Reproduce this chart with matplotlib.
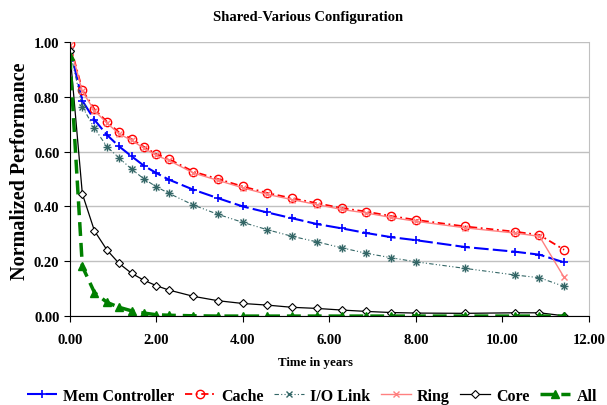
import numpy as np
from matplotlib import pyplot as plt

plt.rcParams['font.family'] = 'Liberation Serif'
plt.rcParams['font.weight'] = 'bold'

# time points (years)
years = [0.0, 0.29, 0.57, 0.86, 1.14, 1.43, 1.71, 2.0, 2.29, 2.86, 3.43, 4.0, 4.57, 5.14,
         5.71, 6.29, 6.86, 7.43, 8.0, 9.14, 10.29, 10.86, 11.43]

mem_controller = [0.98, 0.786, 0.716, 0.661, 0.619, 0.583, 0.549, 0.522, 0.498, 0.461, 0.430, 0.400, 0.378, 0.357,
                  0.336, 0.320, 0.303, 0.288, 0.277, 0.252, 0.235, 0.224, 0.196]
cache = [0.994, 0.825, 0.755, 0.709, 0.670, 0.646, 0.618, 0.591, 0.573, 0.527, 0.500, 0.473, 0.449, 0.430,
         0.412, 0.394, 0.381, 0.365, 0.351, 0.327, 0.308, 0.296, 0.242]
io_link = [0.97, 0.764, 0.685, 0.618, 0.577, 0.536, 0.501, 0.472, 0.448, 0.405, 0.371, 0.342, 0.315, 0.291,
           0.271, 0.249, 0.229, 0.213, 0.198, 0.174, 0.150, 0.140, 0.108]
ring = [0.99, 0.820, 0.750, 0.704, 0.665, 0.641, 0.613, 0.586, 0.568, 0.522, 0.495, 0.468, 0.444, 0.425,
        0.407, 0.389, 0.376, 0.360, 0.346, 0.322, 0.303, 0.291, 0.141]
core = [0.968, 0.446, 0.311, 0.241, 0.192, 0.156, 0.131, 0.111, 0.095, 0.072, 0.056, 0.046, 0.040, 0.032,
        0.028, 0.022, 0.017, 0.013, 0.011, 0.010, 0.012, 0.012, 0.001]
all_units = [0.95, 0.181, 0.086, 0.050, 0.032, 0.019, 0.011, 0.005, 0.003, 0.001, 0.0, 0.0, 0.0, 0.0,
             0.0, 0.0, 0.0, 0.0, 0.0, 0.0, 0.0, 0.0, 0.0]

fig = plt.figure(figsize=(6.07, 4.06), dpi=100)
ax = fig.add_axes([0.115, 0.219, 0.855, 0.675])

ax.plot(years, mem_controller, color="blue", linestyle=(0, (7, 2)), marker="+", markersize=6,
        markeredgewidth=1.2, linewidth=1.5, label="Mem Controller")
ax.plot(years, cache, color="red", linestyle=(0, (4, 2, 1, 2)), marker="o", markersize=6,
        markerfacecolor="none", markeredgewidth=1.0, linewidth=1.3, label="Cache")
ax.plot(years, io_link, color="#336666", linestyle=(0, (4, 2, 1, 2, 1, 2)), marker="x", markersize=5,
        markeredgewidth=1.0, linewidth=0.8, label="I/O Link")
ax.plot(years, io_link, color="#336666", linestyle="none", marker="+", markersize=6,
        markeredgewidth=1.0)
ax.plot(years, ring, color="#FF8080", linestyle="-", marker="x", markersize=5,
        markeredgewidth=1.0, linewidth=1.0, label="Ring")
ax.plot(years, core, color="black", linestyle="-", marker="D", markersize=4.5,
        markerfacecolor="white", markeredgewidth=0.8, linewidth=0.9, label="Core")
ax.plot(years, all_units, color="green", linestyle=(0, (4, 2)), marker="^", markersize=6,
        linewidth=2.5, label="All")

ax.set_xlim(0, 12)
ax.set_ylim(0, 1)
ax.set_xticks(np.arange(0, 13, 2))
ax.set_xticklabels(["%.2f" % v for v in np.arange(0, 13, 2)])
ax.set_yticks(np.arange(0, 1.01, 0.2))
ax.set_yticklabels(["%.2f" % v for v in np.arange(0, 1.01, 0.2)])
ax.tick_params(labelsize=10.5, length=4, direction="out")
ax.tick_params(axis="x", pad=8)
ax.yaxis.grid(True, color="#c0c0c0", linewidth=1)
ax.set_axisbelow(True)
ax.spines["right"].set_color("#c0c0c0")
ax.spines["top"].set_visible(False)

fig.text(0.507, 0.958, "Shared-Various Configuration", fontsize=10.5, fontweight="bold",
         ha="center", va="center")
fig.text(0.52, 0.106, "Time in years", fontsize=9.3, fontweight="bold", ha="center", va="center")
ax.set_ylabel("Normalized Performance", fontsize=14.5, fontweight="bold")
ax.yaxis.set_label_coords(-0.077, 0.533)

handles, labels = ax.get_legend_handles_labels()
fig.legend(handles, labels, loc="center", ncol=6, bbox_to_anchor=(0.514, 0.022), frameon=False,
           fontsize=11.5, handlelength=1.88, columnspacing=0.66, handletextpad=0.38,
           borderpad=0, borderaxespad=0)

plt.savefig("out.png", dpi=100)
